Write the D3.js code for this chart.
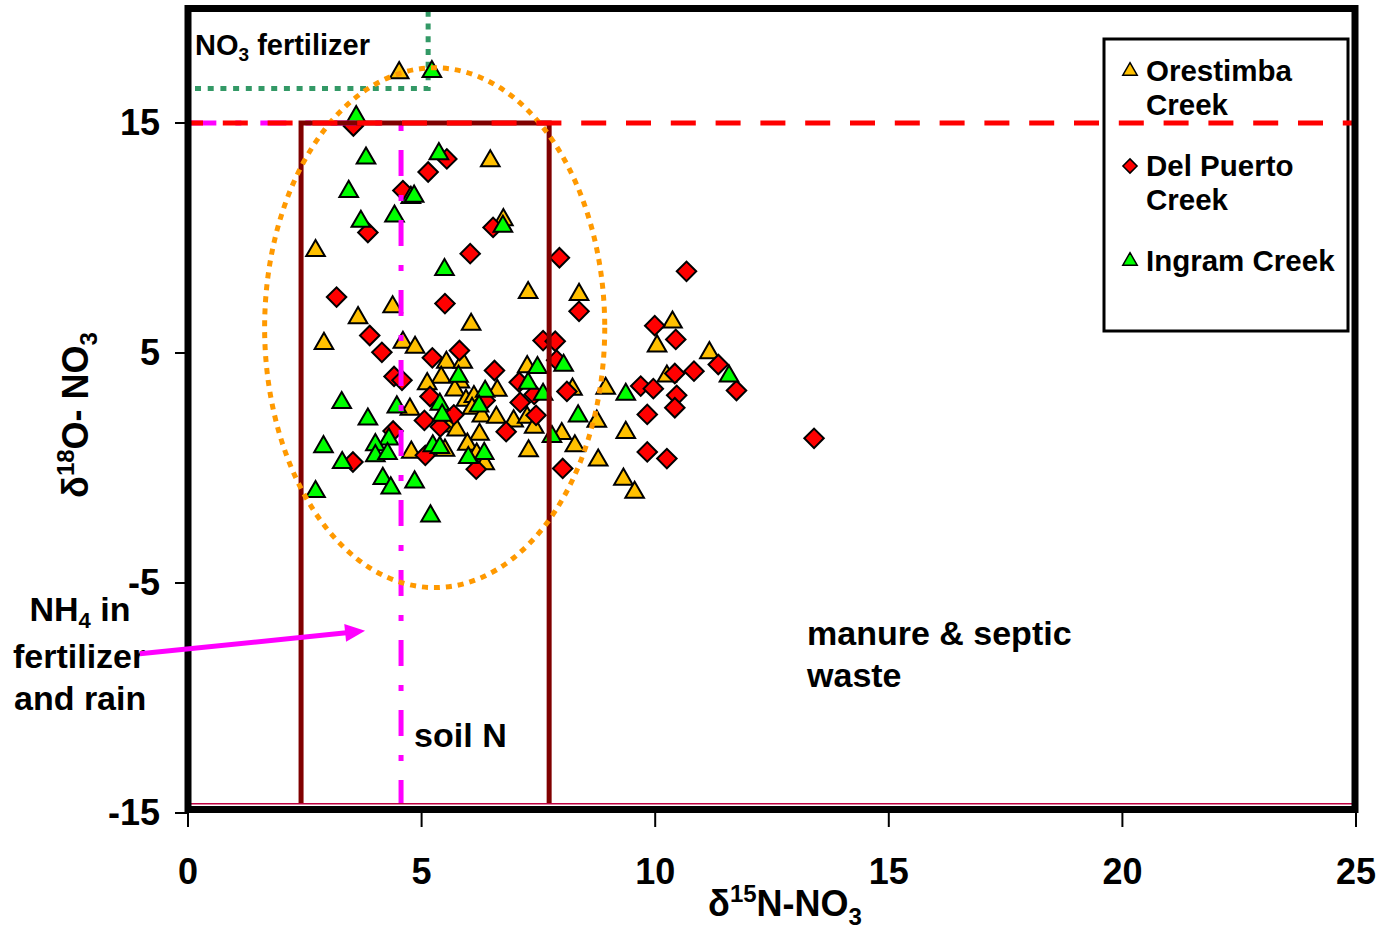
<!DOCTYPE html>
<html>
<head>
<meta charset="utf-8">
<script src="https://cdn.jsdelivr.net/npm/d3@7"></script>
<style>
  body { margin: 0; background: #fff; }
  svg text { font-family: "Liberation Sans", Arial, sans-serif; font-weight: bold; }
</style>
</head>
<body>
<div id="chart"></div>
<script>
// series: [d15N, d18O]
var orestimba = [
  [4.52, 17.18], [6.47, 13.35], [6.75, 10.79], [2.73, 9.45], [7.28, 7.62], [8.37, 7.54],
  [4.38, 7.0], [3.64, 6.53], [6.06, 6.24], [2.91, 5.41], [4.60, 5.46], [4.86, 5.24],
  [5.53, 4.59], [5.88, 4.59], [7.26, 4.40], [5.42, 3.94], [5.82, 3.73], [5.12, 3.66],
  [5.71, 3.39], [6.62, 3.37], [8.23, 3.42], [8.94, 3.46], [5.95, 2.94], [6.12, 3.10],
  [4.75, 2.55], [6.08, 2.59], [6.29, 2.25], [6.60, 2.20], [6.97, 2.04], [7.26, 2.20],
  [8.75, 2.03], [5.61, 1.82], [5.75, 1.65], [7.41, 1.77], [6.24, 1.46], [8.0, 1.49],
  [5.98, 1.03], [5.50, 0.77], [4.78, 0.68], [8.28, 0.96], [7.29, 0.74], [6.18, 0.60],
  [6.35, 0.18], [8.78, 0.34], [9.32, -0.49], [9.56, -1.06], [9.37, 1.54], [10.37, 6.34],
  [10.04, 5.30], [11.16, 5.01], [10.25, 3.99]
];
var delPuerto = [
  [3.54, 14.87], [5.54, 13.44], [5.14, 12.87], [4.60, 12.06], [3.85, 10.24], [6.53, 10.46],
  [6.04, 9.32], [7.95, 9.14], [3.18, 7.43], [5.50, 7.15], [8.37, 6.81], [3.89, 5.76],
  [4.15, 5.03], [5.81, 5.11], [5.23, 4.79], [7.60, 5.54], [7.86, 5.51], [6.56, 4.24],
  [7.89, 4.69], [4.41, 3.98], [4.58, 3.81], [7.09, 3.73], [7.41, 3.20], [8.11, 3.33],
  [5.18, 3.11], [6.36, 2.94], [5.69, 2.31], [7.11, 2.85], [7.45, 2.29], [5.06, 2.07],
  [5.40, 1.79], [6.81, 1.58], [4.39, 1.61], [5.08, 0.55], [6.17, -0.05], [8.02, -0.02],
  [3.53, 0.26], [10.67, 8.55], [9.99, 6.19], [10.44, 5.59], [11.35, 4.50], [11.74, 3.37],
  [10.83, 4.21], [10.42, 4.11], [9.69, 3.56], [9.96, 3.45], [10.46, 3.16], [10.42, 2.62],
  [9.83, 2.33], [9.83, 0.70], [10.25, 0.41], [13.40, 1.29]
];
var ingram = [
  [5.22, 17.23], [3.60, 15.27], [3.81, 13.47], [5.37, 13.66], [3.44, 12.02], [4.77, 11.76],
  [4.84, 11.81], [4.42, 10.95], [3.70, 10.72], [6.74, 10.50], [5.49, 8.62], [7.48, 4.36],
  [8.04, 4.46], [5.79, 3.98], [7.28, 3.68], [7.60, 3.20], [6.36, 3.33], [6.23, 2.69],
  [5.39, 2.77], [5.44, 2.29], [3.29, 2.84], [4.47, 2.65], [3.85, 2.12], [8.35, 2.26],
  [7.79, 1.36], [4.30, 1.25], [2.90, 0.92], [4.01, 1.01], [5.24, 0.96], [5.39, 0.89],
  [6.34, 0.63], [6.0, 0.45], [4.01, 0.53], [4.27, 0.62], [3.30, 0.23], [4.17, -0.46],
  [4.34, -0.87], [4.85, -0.61], [2.73, -1.03], [5.19, -2.09], [9.37, 3.20], [11.58, 3.99]
];
var seriesNames = ["Orestimba Creek", "Del Puerto Creek", "Ingram Creek"];
var xTicks = [0, 5, 10, 15, 20, 25];
var yTicks = [-15, -5, 5, 15];

// source boxes and guides (data units)
var no3Fert = { x: 5.14, y: 16.5 };
var soilN = { x: 4.56, top: 15, bottom: -14.6 };
var manureBox = { x0: 2.42, x1: 7.73, top: 15, bottom: -14.6 };
var ellipse = { cx: 5.28, cy: 6.1, rx: 3.64, ry: 11.3 };
var arrow = { x0: -1.03, y0: -8.08, x1: 3.79, y1: -7.08 };

var W = 1380, H = 938;
var svg = d3.select("#chart").append("svg").attr("width", W).attr("height", H);

var x = d3.scaleLinear().domain([0, 25]).range([188, 1356]);
var y = d3.scaleLinear().domain([-15, 20]).range([813, 8]);

// NO3 fertilizer corner (green dotted)
svg.append("path")
  .attr("d", "M" + x(0.15) + "," + y(no3Fert.y) + "H" + x(no3Fert.x) + "V" + y(20))
  .attr("fill", "none").attr("stroke", "#339966").attr("stroke-width", 5)
  .attr("stroke-dasharray", "6,6.7");

svg.append("text").attr("x", x(0.15)).attr("y", 55).attr("font-size", 29)
  .call(function(t) {
    t.append("tspan").text("NO");
    t.append("tspan").attr("font-size", 19).attr("dy", 6).text("3");
    t.append("tspan").attr("dy", -6).text(" fertilizer");
  });

// symbols
var tri = d3.symbol().type(d3.symbolTriangle).size(150);
var dia = d3.symbol().type(d3.symbolSquare).size(190);

function drawTri(data, fill) {
  svg.append("g").selectAll("path").data(data).enter().append("path")
    .attr("d", tri)
    .attr("transform", function(d) { return "translate(" + x(d[0]) + "," + y(d[1]) + ")"; })
    .attr("fill", fill).attr("stroke", "#000").attr("stroke-width", 2);
}
function drawDia(data, fill) {
  svg.append("g").selectAll("path").data(data).enter().append("path")
    .attr("d", dia)
    .attr("transform", function(d) { return "translate(" + x(d[0]) + "," + y(d[1]) + ") rotate(45)"; })
    .attr("fill", fill).attr("stroke", "#000").attr("stroke-width", 2);
}
drawTri(orestimba, "#ffc000");
drawDia(delPuerto, "#ff0000");
drawTri(ingram, "#00ff00");

// soil N (magenta dash-dot)
svg.append("path")
  .attr("d", "M" + x(0.05) + "," + y(soilN.top) + "H" + x(soilN.x))
  .attr("stroke", "#ff00ff").attr("stroke-width", 5).attr("fill", "none")
  .attr("stroke-dasharray", "26,19,6,19");
svg.append("path")
  .attr("d", "M" + x(soilN.x) + "," + y(soilN.top) + "V" + y(soilN.bottom))
  .attr("stroke", "#ff00ff").attr("stroke-width", 5).attr("fill", "none")
  .attr("stroke-dasharray", "26,19,6,19").attr("stroke-dashoffset", 43);

// maroon box
svg.append("path")
  .attr("d", "M" + x(manureBox.x0) + "," + y(manureBox.bottom) + "V" + y(manureBox.top) +
    "H" + x(manureBox.x1) + "V" + y(manureBox.bottom))
  .attr("stroke", "#800000").attr("stroke-width", 5).attr("fill", "none");

// bottom thin line
svg.append("line")
  .attr("x1", x(0)).attr("x2", x(25)).attr("y1", y(-14.6)).attr("y2", y(-14.6))
  .attr("stroke", "#c00040").attr("stroke-width", 1.5);

// orange dotted ellipse
svg.append("ellipse")
  .attr("cx", x(ellipse.cx)).attr("cy", y(ellipse.cy))
  .attr("rx", x(ellipse.cx + ellipse.rx) - x(ellipse.cx))
  .attr("ry", y(ellipse.cy - ellipse.ry) - y(ellipse.cy))
  .attr("fill", "none").attr("stroke", "#ff9900").attr("stroke-width", 5)
  .attr("stroke-dasharray", "6,6");

// legend
var lg = svg.append("g");
lg.append("rect").attr("x", 1104).attr("y", 39).attr("width", 244).attr("height", 292)
  .attr("fill", "#fff").attr("stroke", "#000").attr("stroke-width", 3);
var legTri = d3.symbol().type(d3.symbolTriangle).size(90);
var legDia = d3.symbol().type(d3.symbolSquare).size(100);
var legRows = [
  { lines: ["Orestimba", "Creek"], y: 81, sym: legTri, fill: "#ffc000", rot: 0 },
  { lines: ["Del Puerto", "Creek"], y: 176, sym: legDia, fill: "#ff0000", rot: 45 },
  { lines: ["Ingram Creek"], y: 271, sym: legTri, fill: "#00ff00", rot: 0 }
];
legRows.forEach(function(r) {
  lg.append("path").attr("d", r.sym)
    .attr("transform", "translate(1130," + (r.y - 10) + ") rotate(" + r.rot + ")")
    .attr("fill", r.fill).attr("stroke", "#000").attr("stroke-width", 1.5);
  r.lines.forEach(function(s, i) {
    lg.append("text").attr("x", 1146).attr("y", r.y + i * 34).attr("font-size", 29.5).text(s);
  });
});

// red dashed 15 line (on top)
svg.append("line")
  .attr("x1", 190).attr("x2", x(25)).attr("y1", y(15)).attr("y2", y(15))
  .attr("stroke", "#ff0000").attr("stroke-width", 5)
  .attr("stroke-dasharray", "25,19.8").attr("stroke-dashoffset", 12);

// frame
svg.append("rect").attr("x", 188).attr("y", 8.5).attr("width", 1167).attr("height", 801)
  .attr("fill", "none").attr("stroke", "#000").attr("stroke-width", 7);

// ticks
svg.append("g").selectAll("line").data(yTicks).enter().append("line")
  .attr("x1", 175).attr("x2", 188).attr("y1", function(d) { return y(d); }).attr("y2", function(d) { return y(d); })
  .attr("stroke", "#000").attr("stroke-width", 2);
svg.append("g").selectAll("line").data(xTicks).enter().append("line")
  .attr("x1", function(d) { return x(d); }).attr("x2", function(d) { return x(d); })
  .attr("y1", 806).attr("y2", 827)
  .attr("stroke", "#000").attr("stroke-width", 2);
svg.append("g").selectAll("text").data(yTicks).enter().append("text")
  .attr("x", 160).attr("y", function(d) { return y(d) + 12; })
  .attr("text-anchor", "end").attr("font-size", 36).text(function(d) { return d; });
svg.append("g").selectAll("text").data(xTicks).enter().append("text")
  .attr("x", function(d) { return x(d); }).attr("y", 884)
  .attr("text-anchor", "middle").attr("font-size", 36).text(function(d) { return d; });

// axis titles
svg.append("text").attr("x", 785).attr("y", 916).attr("text-anchor", "middle").attr("font-size", 36)
  .call(function(t) {
    t.append("tspan").text("\u03b4");
    t.append("tspan").attr("font-size", 24).attr("dy", -14).text("15");
    t.append("tspan").attr("dy", 14).text("N-NO");
    t.append("tspan").attr("font-size", 24).attr("dy", 9).text("3");
  });
svg.append("text").attr("transform", "translate(88,415) rotate(-90)").attr("text-anchor", "middle").attr("font-size", 36)
  .call(function(t) {
    t.append("tspan").text("\u03b4");
    t.append("tspan").attr("font-size", 24).attr("dy", -14).text("18");
    t.append("tspan").attr("dy", 14).text("O- NO");
    t.append("tspan").attr("font-size", 24).attr("dy", 9).text("3");
  });

// annotations
svg.append("text").attr("x", x(13.25)).attr("y", y(-7.7)).attr("font-size", 34).text("manure & septic");
svg.append("text").attr("x", x(13.25)).attr("y", y(-9.52)).attr("font-size", 34).text("waste");
svg.append("text").attr("x", x(4.84)).attr("y", y(-12.13)).attr("font-size", 34).text("soil N");

svg.append("text").attr("x", 80).attr("y", 621).attr("text-anchor", "middle").attr("font-size", 34)
  .call(function(t) {
    t.append("tspan").text("NH");
    t.append("tspan").attr("font-size", 22).attr("dy", 7).text("4");
    t.append("tspan").attr("dy", -7).text(" in");
  });
svg.append("text").attr("x", 13).attr("y", 668).attr("font-size", 34).text("fertilizer");
svg.append("text").attr("x", 14).attr("y", 710).attr("font-size", 34).text("and rain");

// arrow
var ax0 = x(arrow.x0), ay0 = y(arrow.y0), ax1 = x(arrow.x1), ay1 = y(arrow.y1);
var ang = Math.atan2(ay1 - ay0, ax1 - ax0) * 180 / Math.PI;
svg.append("line").attr("x1", ax0).attr("y1", ay0).attr("x2", ax1 - 14 * Math.cos(ang * Math.PI / 180)).attr("y2", ay1 - 14 * Math.sin(ang * Math.PI / 180))
  .attr("stroke", "#ff00ff").attr("stroke-width", 5);
svg.append("path").attr("d", "M0,0L-20,-9L-20,9Z")
  .attr("transform", "translate(" + ax1 + "," + ay1 + ") rotate(" + ang + ")")
  .attr("fill", "#ff00ff");
</script>
</body>
</html>
